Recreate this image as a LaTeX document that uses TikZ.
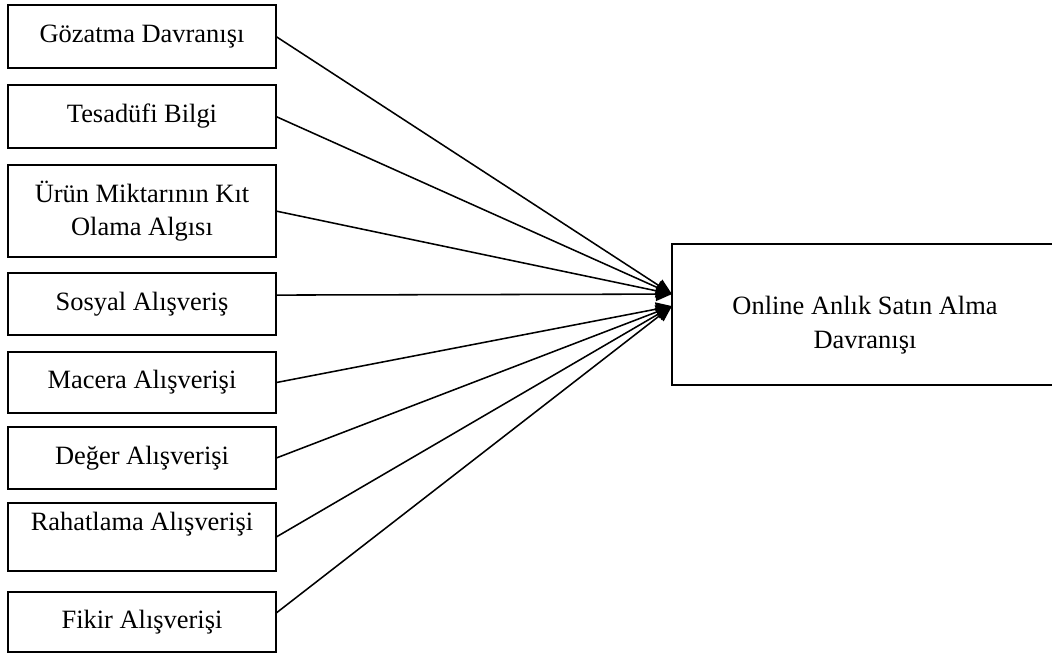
\documentclass[tikz,border=0pt]{standalone}
\usepackage{fontspec}
\setmainfont{Liberation Serif}
\usetikzlibrary{arrows.meta,positioning}

\begin{document}
\begin{tikzpicture}[
    x=0.025cm, y=-0.025cm,
    % --- STYLES ---
    factor/.style={
        rectangle, draw=black, fill=white,
        line width=1.2pt, outer sep=0pt,
        minimum width=6.7cm,
        minimum height=1.575cm,
        align=center, inner sep=2pt,
        font=\fontsize{18.8}{24}\selectfont
    },
    outcome/.style={factor, minimum width=9.65cm, minimum height=3.525cm},
    link/.style={-{Triangle[length=0.4cm, width=0.34cm]}, line width=1.1pt}
]

\useasboundingbox (0,0) rectangle (1052,653);

% ===== 1. FACTORS =====
\node[factor] (f1) at (142,36.5) {Gözatma Davranışı};
\node[factor, below=0.425cm of f1] (f2) {Tesadüfi Bilgi};
\node[factor, below=0.425cm of f2, minimum height=2.3cm] (f3) {Ürün Miktarının Kıt\\ Olama Algısı};
\node[factor, below=0.4cm of f3, minimum height=1.55cm] (f4) {Sosyal Alışveriş};
\node[factor, below=0.425cm of f4, minimum height=1.525cm] (f5) {Macera Alışverişi};
\node[factor, below=0.35cm of f5, minimum height=1.55cm] (f6) {Değer Alışverişi};
\node[factor, below=0.35cm of f6, minimum height=1.7cm, text depth=0.8cm] (f7) {Rahatlama Alışverişi};
\node[factor, below=0.525cm of f7, minimum height=1.5cm] (f8) {Fikir Alışverişi};

% ===== 2. OUTCOME =====
\node[outcome] (out) at (865,314.5) {\rule{0pt}{1cm}Online Anlık Satın Alma\\ Davranışı};

\coordinate (tipA) at ([yshift=0.51cm]out.west);
\coordinate (tipB) at ([yshift=0.21cm]out.west);

% ===== 3. CONNECTIONS =====
\draw[link] (f1.east) -- (tipA);
\draw[link] (f2.east) -- (tipA);
\draw[link] (f3.east) -- (tipA);
\draw[link] ([yshift=0.225cm]f4.east) -- (tipA);

\draw[link] (f5.east) -- (tipB);
\draw[link] (f6.east) -- (tipB);
\draw[link] (f7.east) -- (tipB);
\draw[link] ([yshift=0.225cm]f8.east) -- (tipB);

\end{tikzpicture}
\end{document}
